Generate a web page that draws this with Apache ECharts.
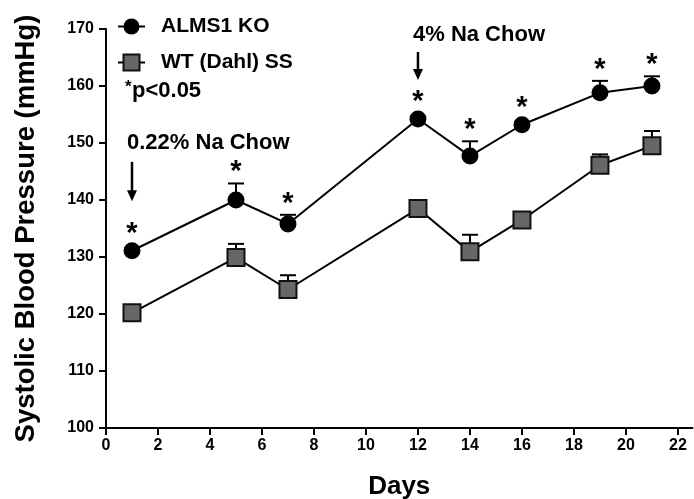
<!DOCTYPE html>
<html>
<head>
<meta charset="utf-8">
<script src="https://cdn.jsdelivr.net/npm/echarts@6/dist/echarts.min.js"></script>
<style>
  html, body { margin: 0; padding: 0; background: #fff; }
  #chart { width: 694px; height: 499px; }
</style>
</head>
<body>
<div id="chart"></div>
<script>
// Systolic blood pressure over time, ALMS1 KO vs WT (Dahl) SS rats
const days = [1, 5, 7, 12, 14, 16, 19, 21];
const koMean = [131.1, 140.0, 135.8, 154.2, 147.7, 153.2, 158.8, 160.0];
const koSem  = [0.5, 2.9, 1.6, 0.5, 2.6, 0.5, 2.1, 1.7];
const wtMean = [120.2, 129.9, 124.3, 138.5, 130.9, 136.5, 146.1, 149.5];
const wtSem  = [0.6, 2.4, 2.5, 0.7, 3.0, 0.8, 1.9, 2.6];
const significant = [true, true, true, true, true, true, true, true];
const xTicks = [0, 2, 4, 6, 8, 10, 12, 14, 16, 18, 20, 22];
const seriesNames = ['ALMS1 KO', 'WT (Dahl) SS'];

// Diet change annotations: day, label, and the label / arrow heights in mmHg
const noteDays = [1, 12];
const noteText = ['0.22% Na Chow', '4% Na Chow'];
const noteLabelY = [150.0, 168.95];
const noteTailY = [146.7, 165.96];
const noteTipY = [139.8, 161.05];

const FONT = '"Liberation Sans", Arial, sans-serif';

const koData = days.map((d, i) => [d, koMean[i]]);
const wtData = days.map((d, i) => [d, wtMean[i]]);
const koErr = days.map((d, i) => [d, koMean[i], koSem[i]]);
const wtErr = days.map((d, i) => [d, wtMean[i], wtSem[i]]);
const starData = days.map((d, i) => [d, koMean[i], koSem[i], significant[i] ? 1 : 0]);
const noteData = noteDays.map((d, i) => [d, noteLabelY[i], noteTailY[i], noteTipY[i], i]);

// upward-only SEM bar with a cap
function renderErr(params, api) {
  const x = api.value(0), m = api.value(1), e = api.value(2);
  const p0 = api.coord([x, m]);
  const p1 = api.coord([x, m + e]);
  const style = { stroke: '#000', lineWidth: 2 };
  return {
    type: 'group',
    children: [
      { type: 'line', shape: { x1: p0[0], y1: p0[1], x2: p1[0], y2: p1[1] }, style },
      { type: 'line', shape: { x1: p1[0] - 8, y1: p1[1], x2: p1[0] + 8, y2: p1[1] }, style }
    ]
  };
}

// significance asterisk above each KO point / its error cap
function renderStar(params, api) {
  if (!api.value(3)) return null;
  const x = api.value(0), m = api.value(1), e = api.value(2);
  const pm = api.coord([x, m]);
  const pe = api.coord([x, m + e]);
  const y = Math.min(pe[1] - 18, pm[1] - 24);
  return {
    type: 'text',
    style: {
      text: '*', x: pm[0], y: y + 7,
      align: 'center', verticalAlign: 'middle',
      font: 'bold 29px ' + FONT, fill: '#000'
    }
  };
}

// diet label with downward arrow
function renderNote(params, api) {
  const x = api.value(0);
  const pl = api.coord([x, api.value(1)]);
  const pt = api.coord([x, api.value(2)]);
  const pp = api.coord([x, api.value(3)]);
  const idx = api.value(4);
  return {
    type: 'group',
    children: [
      {
        type: 'text',
        style: {
          text: noteText[idx], x: pl[0] - 5, y: pl[1],
          align: 'left', verticalAlign: 'middle',
          font: 'bold 22px ' + FONT, fill: '#000'
        }
      },
      {
        type: 'line',
        shape: { x1: pt[0], y1: pt[1], x2: pp[0], y2: pp[1] - 8 },
        style: { stroke: '#000', lineWidth: 2.5 }
      },
      {
        type: 'polygon',
        shape: { points: [[pp[0] - 5, pp[1] - 11], [pp[0] + 5, pp[1] - 11], [pp[0], pp[1]]] },
        style: { fill: '#000' }
      }
    ]
  };
}

const chart = echarts.init(document.getElementById('chart'), null, { renderer: 'canvas' });

chart.setOption({
  animation: false,
  backgroundColor: '#fff',
  grid: { left: 106, right: 1.5, top: 29, bottom: 71, containLabel: false, outerBoundsMode: 'none' },
  legend: {
    orient: 'vertical',
    left: 117,
    top: 16,
    padding: 0,
    itemWidth: 27,
    itemHeight: 20,
    itemGap: 15,
    data: seriesNames,
    textStyle: { fontFamily: FONT, fontWeight: 'bold', fontSize: 21, color: '#000', padding: [0, 0, 0, 11] }
  },
  graphic: [
    {
      type: 'text', left: 125, top: 79,
      style: { text: '*', font: 'bold 17px ' + FONT, fill: '#000' }
    },
    {
      type: 'text', left: 132, top: 80,
      style: { text: 'p<0.05', font: 'bold 22px ' + FONT, fill: '#000' }
    }
  ],
  xAxis: {
    type: 'value',
    min: 0,
    max: 22.56,
    name: 'Days',
    nameLocation: 'middle',
    nameGap: 46,
    nameTextStyle: { fontFamily: FONT, fontWeight: 'bold', fontSize: 26, color: '#000' },
    axisLine: { lineStyle: { color: '#000', width: 2 } },
    axisTick: { show: true, length: 7, lineStyle: { color: '#000', width: 2 }, customValues: xTicks },
    axisLabel: { customValues: xTicks, margin: 10, fontFamily: FONT, fontWeight: 'bold', fontSize: 16, color: '#000' },
    splitLine: { show: false }
  },
  yAxis: {
    type: 'value',
    min: 100,
    max: 170,
    interval: 10,
    name: 'Systolic Blood Pressure (mmHg)',
    nameLocation: 'middle',
    nameGap: 66,
    nameTextStyle: { fontFamily: FONT, fontWeight: 'bold', fontSize: 27.5, color: '#000' },
    axisLine: { show: true, lineStyle: { color: '#000', width: 2 } },
    axisTick: { show: true, length: 7, lineStyle: { color: '#000', width: 2 } },
    axisLabel: { margin: 12, fontFamily: FONT, fontWeight: 'bold', fontSize: 16, color: '#000' },
    splitLine: { show: false }
  },
  series: [
    {
      name: 'koErr', type: 'custom', renderItem: renderErr, data: koErr, z: 1,
      encode: { x: 0, y: [1, 2] }, silent: true
    },
    {
      name: 'wtErr', type: 'custom', renderItem: renderErr, data: wtErr, z: 1,
      encode: { x: 0, y: [1, 2] }, silent: true
    },
    {
      name: seriesNames[0], type: 'line', data: koData, z: 3,
      symbol: 'circle', symbolSize: 17,
      lineStyle: { color: '#000', width: 2 },
      itemStyle: { color: '#000', borderColor: '#000', borderWidth: 0 }
    },
    {
      name: seriesNames[1], type: 'line', data: wtData, z: 3,
      symbol: 'rect', symbolSize: 17,
      lineStyle: { color: '#000', width: 2 },
      itemStyle: { color: '#676767', borderColor: '#111', borderWidth: 2 }
    },
    {
      name: 'stars', type: 'custom', renderItem: renderStar, data: starData, z: 4,
      encode: { x: 0, y: 1 }, silent: true
    },
    {
      name: 'notes', type: 'custom', renderItem: renderNote, data: noteData, z: 4,
      encode: { x: 0, y: 1 }, silent: true
    }
  ]
});
</script>
</body>
</html>
